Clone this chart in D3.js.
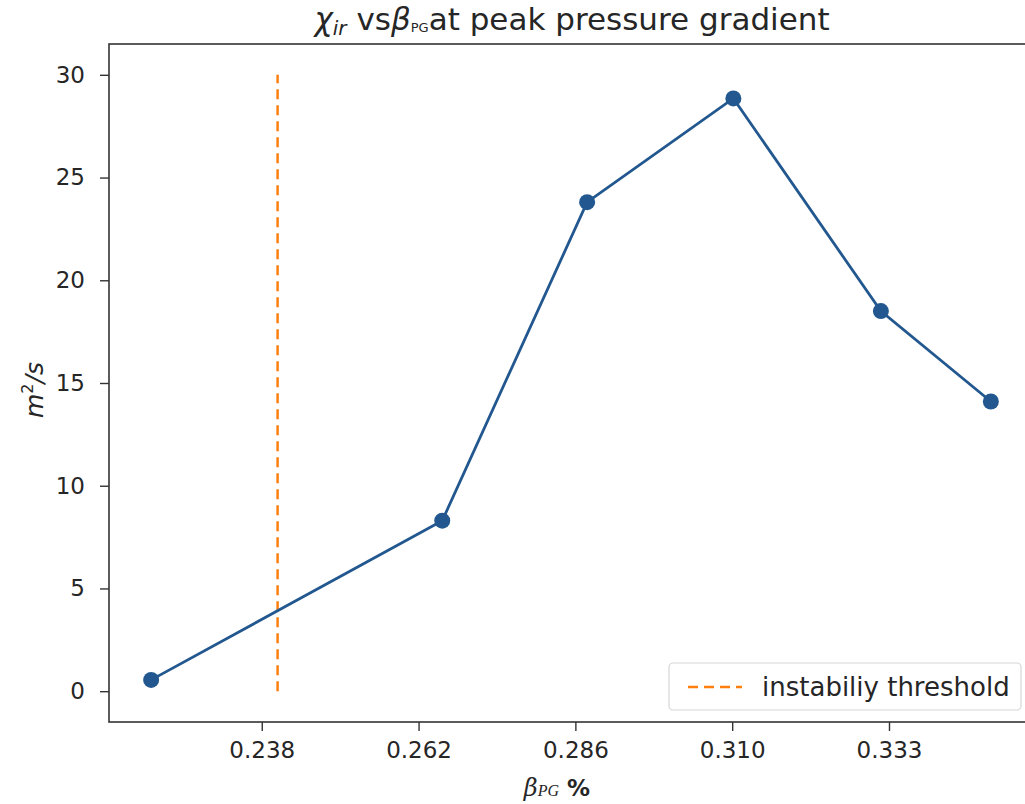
<!DOCTYPE html>
<html><head><meta charset="utf-8">
<script src="https://cdn.jsdelivr.net/npm/d3@7/dist/d3.min.js"></script>
<style>body{margin:0;background:#fff}svg{display:block}</style>
</head><body>
<svg id="c" width="1025" height="804"></svg>
<script>
const betaPG = [0.2213, 0.2655, 0.2875, 0.3097, 0.3321, 0.3488];
const chiIr = [0.55, 8.3, 23.8, 28.85, 18.5, 14.1];
const threshold = 0.2405;
const thresholdRange = [0, 30];
const xTicks = [10/42, 11/42, 12/42, 13/42, 14/42];
const xTickLabels = ["0.238", "0.262", "0.286", "0.310", "0.333"];
const yTicks = [0, 5, 10, 15, 20, 25, 30];
const legendLabel = "instabiliy threshold";

const svg = d3.select("#c");
const L = 109, R = 1033, T = 44, B = 722;
const x = d3.scaleLinear().domain([0.2149, 0.3552]).range([L, R]);
const y = d3.scaleLinear().domain([-1.5, 31.5]).range([B, T]);

const blue = "#22588f", orange = "#ff7f0e", txt = "#262626";
const sans = "DejaVu Sans, sans-serif";

// frame
svg.append("rect").attr("x", L).attr("y", T).attr("width", R - L).attr("height", B - T)
  .attr("fill", "none").attr("stroke", "#333").attr("stroke-width", 1.6);

// axes
const xAxis = d3.axisBottom(x).tickValues(xTicks).tickFormat((d, i) => xTickLabels[i]).tickSize(9).tickPadding(11);
const gx = svg.append("g").attr("transform", `translate(0,${B})`).call(xAxis);
const yAxis = d3.axisLeft(y).tickValues(yTicks).tickSize(9).tickPadding(15);
const gy = svg.append("g").attr("transform", `translate(${L},0)`).call(yAxis);
[gx, gy].forEach(g => {
  g.select(".domain").remove();
  g.selectAll(".tick line").attr("stroke", "#333").attr("stroke-width", 1.4);
  g.selectAll(".tick text").attr("fill", txt).style("font-family", sans).style("font-size", "23px");
});

// threshold line
svg.append("line").attr("x1", x(threshold)).attr("x2", x(threshold))
  .attr("y1", y(thresholdRange[0])).attr("y2", y(thresholdRange[1]))
  .attr("stroke", orange).attr("stroke-width", 2.5).attr("stroke-dasharray", "10,6");

// data line
const line = d3.line().x((d, i) => x(betaPG[i])).y(d => y(d));
svg.append("path").datum(chiIr).attr("d", line).attr("fill", "none")
  .attr("stroke", blue).attr("stroke-width", 2.8);
svg.selectAll("circle.pt").data(chiIr).join("circle").attr("class", "pt")
  .attr("cx", (d, i) => x(betaPG[i])).attr("cy", d => y(d)).attr("r", 8).attr("fill", blue);

// title
const title = svg.append("text").attr("x", 572).attr("y", 30).attr("text-anchor", "middle")
  .style("font-family", sans).style("font-size", "31px").attr("fill", txt);
title.append("tspan").text("χ").style("font-style", "italic");
title.append("tspan").text("ir").style("font-style", "italic").style("font-size", "20px").attr("dy", 5);
title.append("tspan").text(" vs").attr("dy", -5);
title.append("tspan").text("β").style("font-style", "italic");
title.append("tspan").text("PG").style("font-size", "13px").attr("dy", 2);
title.append("tspan").text("at peak pressure gradient").attr("dy", -2);

// y label
const yl = svg.append("text").attr("transform", "translate(43,390) rotate(-90)").attr("text-anchor", "middle")
  .style("font-family", sans).style("font-size", "25px").attr("fill", txt);
yl.append("tspan").text("m").style("font-style", "italic");
yl.append("tspan").text("2").style("font-size", "16px").attr("dy", -10);
yl.append("tspan").text("/s").style("font-style", "italic").attr("dy", 10);

// x label
const xl = svg.append("text").attr("x", 557).attr("y", 796).attr("text-anchor", "middle")
  .attr("fill", txt).style("font-size", "24px");
xl.append("tspan").text("β").style("font-family", "DejaVu Serif, serif").style("font-style", "italic");
xl.append("tspan").text("PG").style("font-family", "Liberation Serif, serif").style("font-style", "italic").style("font-size", "16px");
xl.append("tspan").text(" %").style("font-family", sans).style("font-weight", "bold").style("font-size", "23px");

// legend
const lg = svg.append("g");
lg.append("rect").attr("x", 669).attr("y", 663).attr("width", 352).attr("height", 47).attr("rx", 4)
  .attr("fill", "#fff").attr("stroke", "#d6d6d6").attr("stroke-width", 1.2);
lg.append("line").attr("x1", 688).attr("x2", 742).attr("y1", 687).attr("y2", 687)
  .attr("stroke", orange).attr("stroke-width", 2.5).attr("stroke-dasharray", "10,6");
lg.append("text").attr("x", 762).attr("y", 696).text(legendLabel)
  .style("font-family", sans).style("font-size", "26px").attr("fill", txt);
</script>
</body></html>
